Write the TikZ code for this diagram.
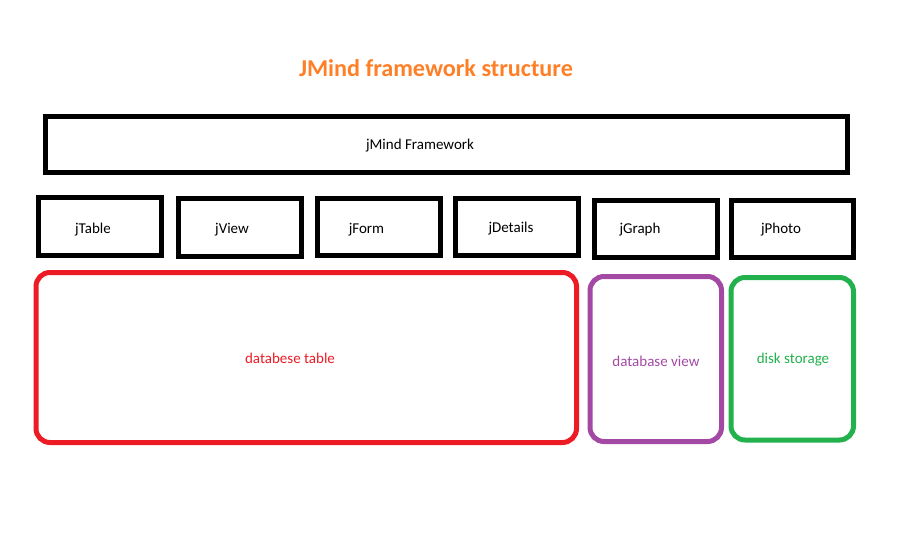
\documentclass[tikz,border=0pt]{standalone}
\usepackage{fontspec}
\setmainfont{Carlito}
\definecolor{ttlorange}{HTML}{FF7F27}
\definecolor{pred}{HTML}{ED1C24}
\definecolor{ppurple}{HTML}{A349A4}
\definecolor{pgreen}{HTML}{22B14C}
\tikzset{
  blkbox/.style={draw=black, line width=5pt, rectangle, inner sep=0pt, outer sep=0pt},
  rbox/.style={line width=5pt, rectangle, rounded corners=14pt, inner sep=0pt, outer sep=0pt},
  lbl/.style={font=\fontsize{15}{17}\selectfont, inner sep=0pt, anchor=center, yshift=-1.5pt},
}
\begin{document}
\begin{tikzpicture}[x=1pt,y=-1pt]
\useasboundingbox (0,0) rectangle (897,533);
% title
\node[font=\fontsize{24.2}{27}\selectfont\bfseries, text=ttlorange, inner sep=0pt] (title) at (436,68) {JMind framework structure};
% top frame
\node[blkbox, minimum width=802pt, minimum height=56pt] (fw) at (446.5,144.5) {};
\node[lbl] (fwt) at (420,144) {jMind Framework};
% modules
\node[blkbox, minimum width=123pt, minimum height=58pt] (tbl) at (100,226.5) {};
\node[lbl] (tblt) at (93,228) {jTable};
\node[blkbox, minimum width=123pt, minimum height=58pt] (vw) at (240,227.5) {};
\node[lbl] (vwt) at (232,228) {jView};
\node[blkbox, minimum width=122.7pt, minimum height=57.3pt] (frm) at (378.85,227.15) {};
\node[lbl] (frmt) at (366.5,228) {jForm};
\node[blkbox, minimum width=122.8pt, minimum height=57.2pt] (det) at (516.9,227.1) {};
\node[lbl] (dett) at (511,227) {jDetails};
\node[blkbox, minimum width=123.7pt, minimum height=57.5pt] (grp) at (655.85,228.75) {};
\node[lbl] (grpt) at (640,228.5) {jGraph};
\node[blkbox, minimum width=122.5pt, minimum height=57.5pt] (pho) at (792.25,228.75) {};
\node[lbl] (phot) at (781,228.5) {jPhoto};
% storage
\node[rbox, draw=pred, minimum width=540.5pt, minimum height=170pt] (dbt) at (306.25,357.5) {};
\node[lbl, text=pred] (dbtt) at (290,357) {databese table};
\node[rbox, draw=ppurple, minimum width=131.5pt, minimum height=165pt] (dbv) at (655.75,359) {};
\node[lbl, text=ppurple] (dbvt) at (656,360) {database view};
\node[rbox, draw=pgreen, minimum width=122.5pt, minimum height=162.5pt] (dsk) at (792.25,358.75) {};
\node[lbl, text=pgreen] (dskt) at (793,358) {disk storage};
\end{tikzpicture}
\end{document}
